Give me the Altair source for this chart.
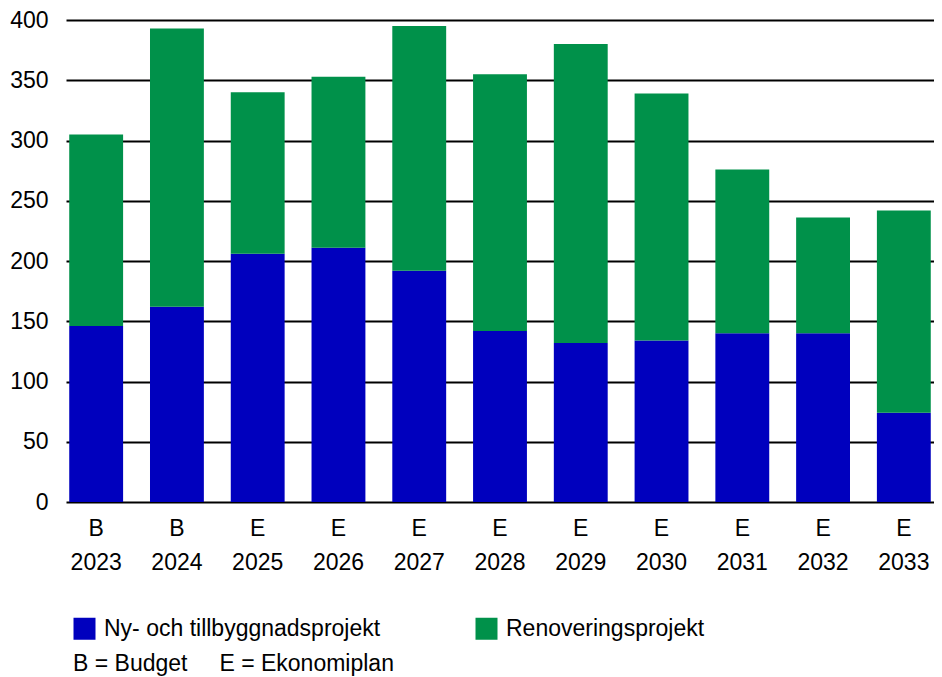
import altair as alt
import pandas as pd

categories = ["B 2023", "B 2024", "E 2025", "E 2026", "E 2027", "E 2028",
              "E 2029", "E 2030", "E 2031", "E 2032", "E 2033"]
ny_values = [146, 162, 206, 211, 192, 142, 132, 134, 140, 140, 74]
renov_values = [159, 231, 134, 142, 203, 213, 248, 205, 136, 96, 168]
series = ["Ny- och tillbyggnadsprojekt", "Renoveringsprojekt"]
colors = ["#0000BE", "#00914A"]
y_ticks = [0, 50, 100, 150, 200, 250, 300, 350, 400]
footnote = ["B = Budget\u00a0\u00a0\u00a0\u00a0\u00a0E = Ekonomiplan"]

rows = []
for c, a, b in zip(categories, ny_values, renov_values):
    rows.append({"cat": c, "serie": series[0], "value": a, "ord": 0})
    rows.append({"cat": c, "serie": series[1], "value": b, "ord": 1})
df = pd.DataFrame(rows)

FONT = "Liberation Sans"
FS = 23

bars = alt.Chart(df).mark_bar(strokeWidth=0).encode(
    x=alt.X("cat:N", sort=categories, title=None,
            scale=alt.Scale(paddingInner=0.333, paddingOuter=0.04),
            axis=alt.Axis(labelExpr="split(datum.label, ' ')", labelAngle=0,
                          ticks=False, domain=False, grid=False,
                          labelPadding=15, labelLineHeight=34,
                          labelFontSize=FS, labelFont=FONT, labelColor="#000")),
    y=alt.Y("value:Q", title=None, stack="zero",
            scale=alt.Scale(domain=[0, 400], nice=False),
            axis=alt.Axis(values=y_ticks, ticks=False, domain=False, grid=True,
                          gridColor="#000", gridWidth=2, gridOpacity=1,
                          labelPadding=18, labelFontSize=FS, labelFont=FONT,
                          labelColor="#000")),
    color=alt.Color("serie:N", scale=alt.Scale(domain=series, range=colors),
                    legend=alt.Legend(orient="none", legendX=7, legendY=597,
                                      direction="horizontal", title=None,
                                      symbolType="square", symbolSize=484,
                                      symbolStrokeWidth=0, symbolOpacity=1,
                                      labelFontSize=FS, labelFont=FONT,
                                      labelColor="#000", labelOffset=8,
                                      columnPadding=94, padding=0,
                                      labelLimit=400)),
    order=alt.Order("ord:Q", sort="ascending"),
)

note = alt.Chart(pd.DataFrame({"t": footnote})).mark_text(
    align="left", baseline="alphabetic", fontSize=FS, font=FONT, color="#000"
).encode(x=alt.value(7), y=alt.value(651), text="t:N")

chart = alt.layer(bars, note).properties(
    width=868, height=482,
    padding={"left": 58, "top": 12, "right": 0, "bottom": 190},
    autosize=alt.AutoSizeParams(type="none"),
).configure_view(stroke=None)

chart.save("out.html", embed_options={"renderer": "svg", "actions": False})
